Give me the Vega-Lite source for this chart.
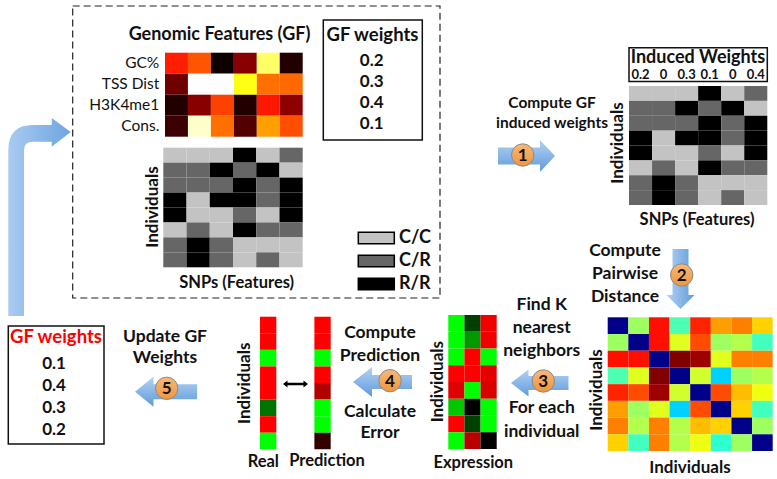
{
  "$schema": "https://vega.github.io/schema/vega-lite/v6.json",
  "width": 777,
  "height": 479,
  "padding": 0,
  "autosize": {"type": "none"},
  "background": "white",
  "config": {"view": {"stroke": null}, "text": {"font": "Lato"}},
  "datasets": {
    "snps": [
      {"i":1,"j":1,"g":"C/C"},{"i":1,"j":2,"g":"C/C"},{"i":1,"j":3,"g":"C/C"},{"i":1,"j":4,"g":"R/R"},{"i":1,"j":5,"g":"C/C"},{"i":1,"j":6,"g":"C/R"},
      {"i":2,"j":1,"g":"C/R"},{"i":2,"j":2,"g":"C/R"},{"i":2,"j":3,"g":"R/R"},{"i":2,"j":4,"g":"C/R"},{"i":2,"j":5,"g":"R/R"},{"i":2,"j":6,"g":"C/C"},
      {"i":3,"j":1,"g":"C/R"},{"i":3,"j":2,"g":"C/R"},{"i":3,"j":3,"g":"C/R"},{"i":3,"j":4,"g":"R/R"},{"i":3,"j":5,"g":"C/R"},{"i":3,"j":6,"g":"R/R"},
      {"i":4,"j":1,"g":"R/R"},{"i":4,"j":2,"g":"C/C"},{"i":4,"j":3,"g":"R/R"},{"i":4,"j":4,"g":"R/R"},{"i":4,"j":5,"g":"C/R"},{"i":4,"j":6,"g":"R/R"},
      {"i":5,"j":1,"g":"R/R"},{"i":5,"j":2,"g":"C/C"},{"i":5,"j":3,"g":"C/C"},{"i":5,"j":4,"g":"C/R"},{"i":5,"j":5,"g":"C/C"},{"i":5,"j":6,"g":"R/R"},
      {"i":6,"j":1,"g":"C/C"},{"i":6,"j":2,"g":"C/R"},{"i":6,"j":3,"g":"C/C"},{"i":6,"j":4,"g":"R/R"},{"i":6,"j":5,"g":"C/R"},{"i":6,"j":6,"g":"C/R"},
      {"i":7,"j":1,"g":"C/R"},{"i":7,"j":2,"g":"R/R"},{"i":7,"j":3,"g":"C/R"},{"i":7,"j":4,"g":"C/C"},{"i":7,"j":5,"g":"C/C"},{"i":7,"j":6,"g":"C/C"},
      {"i":8,"j":1,"g":"C/R"},{"i":8,"j":2,"g":"R/R"},{"i":8,"j":3,"g":"C/R"},{"i":8,"j":4,"g":"C/C"},{"i":8,"j":5,"g":"C/R"},{"i":8,"j":6,"g":"C/C"}
    ]
  },
  "layer": [
    {
      "data": {"values": [{}]},
      "layer": [
        {"mark": {"type": "rect", "fillOpacity": 0, "stroke": "#222", "strokeWidth": 1.2, "strokeDash": [7, 4]},
         "encoding": {"x": {"datum": 72.7, "type": "quantitative", "scale": {"domain": [0, 777], "nice": false, "zero": false}, "axis": null}, "x2": {"datum": 440}, "y": {"datum": 6, "type": "quantitative", "scale": {"domain": [0, 479], "nice": false, "zero": false, "reverse": true}, "axis": null}, "y2": {"datum": 298}}},
        {"mark": {"type": "rect", "fill": "white", "stroke": "#111", "strokeWidth": 1.5},
         "encoding": {"x": {"datum": 323.3, "type": "quantitative"}, "x2": {"datum": 422.3}, "y": {"datum": 20, "type": "quantitative"}, "y2": {"datum": 140}}},
        {"mark": {"type": "rect", "fill": "white", "stroke": "#111", "strokeWidth": 1.5},
         "encoding": {"x": {"datum": 629, "type": "quantitative"}, "x2": {"datum": 767.3}, "y": {"datum": 47.7, "type": "quantitative"}, "y2": {"datum": 81.5}}},
        {"mark": {"type": "rect", "fill": "white", "stroke": "#111", "strokeWidth": 1.5},
         "encoding": {"x": {"datum": 8.3, "type": "quantitative"}, "x2": {"datum": 104}, "y": {"datum": 326, "type": "quantitative"}, "y2": {"datum": 444}}},
        {"mark": {"type": "point", "shape": "M-31.7,96 L-31.7,-70 Q-31.7,-95 -7,-95 L11.7,-95 L11.7,-102 L30.7,-88 L11.7,-73.3 L11.7,-78.3 L-7,-78.3 Q-16,-78.3 -16,-70 L-16,96 Z", "size": 4, "filled": true, "opacity": 1, "strokeWidth": 0,
           "fill": {"gradient": "linear", "x1": 0, "y1": 0, "x2": 1, "y2": 0, "stops": [{"offset": 0, "color": "#a9cbf1"}, {"offset": 1, "color": "#6ea5e0"}]}},
         "encoding": {"x": {"datum": 40, "type": "quantitative"}, "y": {"datum": 220, "type": "quantitative"}}},
        {"mark": {"type": "point", "shape": "M-28,-8.5 L14,-8.5 L14,-16 L29,0 L14,16 L14,8.5 L-28,8.5 Z", "size": 4, "filled": true, "opacity": 1, "strokeWidth": 0,
           "fill": {"gradient": "linear", "x1": 0, "y1": 0, "x2": 0, "y2": 1, "stops": [{"offset": 0, "color": "#b3d2f3"}, {"offset": 1, "color": "#5f9bdb"}]}},
         "encoding": {"x": {"datum": 526, "type": "quantitative"}, "y": {"datum": 156, "type": "quantitative"}}},
        {"mark": {"type": "point", "shape": "M-8,-31 L8,-31 L8,15 L14,15 L0,29 L-14,15 L-8,15 Z", "size": 4, "filled": true, "opacity": 1, "strokeWidth": 0,
           "fill": {"gradient": "linear", "x1": 0, "y1": 0, "x2": 1, "y2": 0, "stops": [{"offset": 0, "color": "#b3d2f3"}, {"offset": 1, "color": "#5f9bdb"}]}},
         "encoding": {"x": {"datum": 680.5, "type": "quantitative"}, "y": {"datum": 280, "type": "quantitative"}}},
        {"mark": {"type": "point", "shape": "M-29,0 L-11.5,-13.5 L-11.5,-7 L28.5,-7 L28.5,7 L-11.5,7 L-11.5,13.5 Z", "size": 4, "filled": true, "opacity": 1, "strokeWidth": 0,
           "fill": {"gradient": "linear", "x1": 0, "y1": 0, "x2": 0, "y2": 1, "stops": [{"offset": 0, "color": "#b3d2f3"}, {"offset": 1, "color": "#5f9bdb"}]}},
         "encoding": {"x": {"datum": 540, "type": "quantitative"}, "y": {"datum": 383, "type": "quantitative"}}},
        {"mark": {"type": "point", "shape": "M-29,0 L-10,-15 L-10,-7 L30,-7 L30,7 L-10,7 L-10,15 Z", "size": 4, "filled": true, "opacity": 1, "strokeWidth": 0,
           "fill": {"gradient": "linear", "x1": 0, "y1": 0, "x2": 0, "y2": 1, "stops": [{"offset": 0, "color": "#b3d2f3"}, {"offset": 1, "color": "#5f9bdb"}]}},
         "encoding": {"x": {"datum": 382, "type": "quantitative"}, "y": {"datum": 382, "type": "quantitative"}}},
        {"mark": {"type": "point", "shape": "M-31,0 L-12.5,-15 L-12.5,-7.5 L31,-7.5 L31,7.5 L-12.5,7.5 L-12.5,15 Z", "size": 4, "filled": true, "opacity": 1, "strokeWidth": 0,
           "fill": {"gradient": "linear", "x1": 0, "y1": 0, "x2": 0, "y2": 1, "stops": [{"offset": 0, "color": "#b3d2f3"}, {"offset": 1, "color": "#5f9bdb"}]}},
         "encoding": {"x": {"datum": 166, "type": "quantitative"}, "y": {"datum": 391.7, "type": "quantitative"}}},
        {"mark": {"type": "point", "shape": "M-12.5,0 L-8,-3.5 L-8,-1.2 L8,-1.2 L8,-3.5 L12.5,0 L8,3.5 L8,1.2 L-8,1.2 L-8,3.5 Z", "size": 4, "filled": true, "opacity": 1, "strokeWidth": 0, "fill": "#000"},
         "encoding": {"x": {"datum": 295.5, "type": "quantitative"}, "y": {"datum": 384, "type": "quantitative"}}},
        {"data": {"values": [{"n": "1", "cx": 522.7, "cy": 155}, {"n": "2", "cx": 681.7, "cy": 275}, {"n": "3", "cx": 543.3, "cy": 381}, {"n": "4", "cx": 390, "cy": 380.7}, {"n": "5", "cx": 166.7, "cy": 388.3}]},
         "layer": [
           {"mark": {"type": "point", "shape": "circle", "size": 500, "filled": true, "opacity": 1, "stroke": "#8a8a8a", "strokeWidth": 1,
              "fill": {"gradient": "linear", "x1": 0, "y1": 0, "x2": 0, "y2": 1, "stops": [{"offset": 0, "color": "#f9b877"}, {"offset": 1, "color": "#ee9640"}]}},
            "encoding": {"x": {"field": "cx", "type": "quantitative"}, "y": {"field": "cy", "type": "quantitative"}}},
           {"mark": {"type": "text", "fontWeight": "bold", "fontSize": 17, "baseline": "middle", "dy": 1, "color": "#111"},
            "encoding": {"x": {"field": "cx", "type": "quantitative"}, "y": {"field": "cy", "type": "quantitative"}, "text": {"field": "n"}}}
         ]},
        {"mark": {"type": "text", "fontWeight": "bold", "fontSize": 18, "baseline": "middle", "text": "Genomic Features (GF)", "color": "#111"},
         "encoding": {"x": {"datum": 219.5, "type": "quantitative"}, "y": {"datum": 35, "type": "quantitative"}}},
        {"mark": {"type": "text", "fontWeight": "bold", "fontSize": 18.5, "baseline": "middle", "text": "GF weights", "color": "#111"},
         "encoding": {"x": {"datum": 372.5, "type": "quantitative"}, "y": {"datum": 35, "type": "quantitative"}}},
        {"mark": {"type": "text", "fontWeight": "bold", "fontSize": 16.5, "baseline": "middle", "text": "SNPs (Features)", "color": "#111"},
         "encoding": {"x": {"datum": 236.7, "type": "quantitative"}, "y": {"datum": 283.3, "type": "quantitative"}}},
        {"mark": {"type": "text", "fontWeight": "bold", "fontSize": 17, "baseline": "middle", "angle": 270, "text": "Individuals", "color": "#111"},
         "encoding": {"x": {"datum": 153, "type": "quantitative"}, "y": {"datum": 207, "type": "quantitative"}}},
        {"mark": {"type": "text", "fontWeight": "bold", "fontSize": 15.5, "baseline": "top", "lineHeight": 20, "text": ["Compute GF", "induced weights"], "color": "#111"},
         "encoding": {"x": {"datum": 552, "type": "quantitative"}, "y": {"datum": 96, "type": "quantitative"}}},
        {"mark": {"type": "text", "fontWeight": "bold", "fontSize": 18, "baseline": "middle", "text": "Induced Weights", "color": "#111"},
         "encoding": {"x": {"datum": 698, "type": "quantitative"}, "y": {"datum": 57.5, "type": "quantitative"}}},
        {"mark": {"type": "text", "fontWeight": "bold", "fontSize": 17, "baseline": "middle", "angle": 270, "text": "Individuals", "color": "#111"},
         "encoding": {"x": {"datum": 618, "type": "quantitative"}, "y": {"datum": 143, "type": "quantitative"}}},
        {"mark": {"type": "text", "fontWeight": "bold", "fontSize": 16.5, "baseline": "middle", "text": "SNPs (Features)", "color": "#111"},
         "encoding": {"x": {"datum": 697, "type": "quantitative"}, "y": {"datum": 220, "type": "quantitative"}}},
        {"mark": {"type": "text", "fontWeight": "bold", "fontSize": 17.5, "baseline": "top", "lineHeight": 23, "text": ["Compute", "Pairwise", "Distance"], "color": "#111"},
         "encoding": {"x": {"datum": 625, "type": "quantitative"}, "y": {"datum": 241.5, "type": "quantitative"}}},
        {"mark": {"type": "text", "fontWeight": "bold", "fontSize": 17, "baseline": "middle", "angle": 270, "text": "Individuals", "color": "#111"},
         "encoding": {"x": {"datum": 596.7, "type": "quantitative"}, "y": {"datum": 390, "type": "quantitative"}}},
        {"mark": {"type": "text", "fontWeight": "bold", "fontSize": 17, "baseline": "middle", "text": "Individuals", "color": "#111"},
         "encoding": {"x": {"datum": 690, "type": "quantitative"}, "y": {"datum": 468.3, "type": "quantitative"}}},
        {"mark": {"type": "text", "fontWeight": "bold", "fontSize": 17.5, "baseline": "top", "lineHeight": 23.3, "text": ["Find K", "nearest", "neighbors"], "color": "#111"},
         "encoding": {"x": {"datum": 541.7, "type": "quantitative"}, "y": {"datum": 295.5, "type": "quantitative"}}},
        {"mark": {"type": "text", "fontWeight": "bold", "fontSize": 17.5, "baseline": "top", "lineHeight": 24, "text": ["For each", "individual"], "color": "#111"},
         "encoding": {"x": {"datum": 541.7, "type": "quantitative"}, "y": {"datum": 398.5, "type": "quantitative"}}},
        {"mark": {"type": "text", "fontWeight": "bold", "fontSize": 17, "baseline": "middle", "angle": 270, "text": "Individuals", "color": "#111"},
         "encoding": {"x": {"datum": 438.3, "type": "quantitative"}, "y": {"datum": 381.7, "type": "quantitative"}}},
        {"mark": {"type": "text", "fontWeight": "bold", "fontSize": 16.5, "baseline": "middle", "text": "Expression", "color": "#111"},
         "encoding": {"x": {"datum": 473.3, "type": "quantitative"}, "y": {"datum": 463.3, "type": "quantitative"}}},
        {"mark": {"type": "text", "fontWeight": "bold", "fontSize": 17.5, "baseline": "top", "lineHeight": 23.3, "text": ["Compute", "Prediction"], "color": "#111"},
         "encoding": {"x": {"datum": 380, "type": "quantitative"}, "y": {"datum": 324, "type": "quantitative"}}},
        {"mark": {"type": "text", "fontWeight": "bold", "fontSize": 17.5, "baseline": "top", "lineHeight": 21.7, "text": ["Calculate", "Error"], "color": "#111"},
         "encoding": {"x": {"datum": 380, "type": "quantitative"}, "y": {"datum": 402.5, "type": "quantitative"}}},
        {"mark": {"type": "text", "fontWeight": "bold", "fontSize": 17, "baseline": "middle", "angle": 270, "text": "Individuals", "color": "#111"},
         "encoding": {"x": {"datum": 245, "type": "quantitative"}, "y": {"datum": 383.3, "type": "quantitative"}}},
        {"mark": {"type": "text", "fontWeight": "bold", "fontSize": 16.5, "baseline": "middle", "text": "Real", "color": "#111"},
         "encoding": {"x": {"datum": 263.3, "type": "quantitative"}, "y": {"datum": 461.7, "type": "quantitative"}}},
        {"mark": {"type": "text", "fontWeight": "bold", "fontSize": 16.5, "baseline": "middle", "text": "Prediction", "color": "#111"},
         "encoding": {"x": {"datum": 327, "type": "quantitative"}, "y": {"datum": 460.5, "type": "quantitative"}}},
        {"mark": {"type": "text", "fontWeight": "bold", "fontSize": 17.5, "baseline": "top", "lineHeight": 21.7, "text": ["Update GF", "Weights"], "color": "#111"},
         "encoding": {"x": {"datum": 165, "type": "quantitative"}, "y": {"datum": 327.5, "type": "quantitative"}}},
        {"mark": {"type": "text", "fontWeight": "bold", "fontSize": 18.5, "baseline": "middle", "color": "#ff0000", "text": "GF weights"},
         "encoding": {"x": {"datum": 56, "type": "quantitative"}, "y": {"datum": 336.7, "type": "quantitative"}}}
      ]
    },
    {
      "data": {"values": [
        {"f":"GC%","j":1,"v":0.42},{"f":"GC%","j":2,"v":0.5},{"f":"GC%","j":3,"v":0.02},{"f":"GC%","j":4,"v":0.2},{"f":"GC%","j":5,"v":0.85},{"f":"GC%","j":6,"v":0.05},
        {"f":"TSS Dist","j":1,"v":0.165},{"f":"TSS Dist","j":2,"v":1.0},{"f":"TSS Dist","j":3,"v":1.0},{"f":"TSS Dist","j":4,"v":0.77},{"f":"TSS Dist","j":5,"v":0.54},{"f":"TSS Dist","j":6,"v":0.53},
        {"f":"H3K4me1","j":1,"v":0.05},{"f":"H3K4me1","j":2,"v":0.2},{"f":"H3K4me1","j":3,"v":0.47},{"f":"H3K4me1","j":4,"v":0.05},{"f":"H3K4me1","j":5,"v":0.41},{"f":"H3K4me1","j":6,"v":0.21},
        {"f":"Cons.","j":1,"v":0.09},{"f":"Cons.","j":2,"v":0.95},{"f":"Cons.","j":3,"v":0.54},{"f":"Cons.","j":4,"v":0.12},{"f":"Cons.","j":5,"v":0.61},{"f":"Cons.","j":6,"v":0.49}
      ]},
      "mark": {"type": "rect"},
      "encoding": {
        "x": {"field": "j", "type": "ordinal", "axis": null, "scale": {"range": [165, 302.7], "paddingInner": 0, "paddingOuter": 0}},
        "y": {"field": "f", "type": "ordinal", "axis": null, "sort": ["GC%", "TSS Dist", "H3K4me1", "Cons."], "scale": {"range": [52.7, 136.7], "paddingInner": 0, "paddingOuter": 0}},
        "color": {"field": "v", "type": "quantitative", "legend": null, "scale": {"type": "linear", "domain": [0, 0.375, 0.75, 1], "range": ["#000000", "#ff0000", "#ffff00", "#ffffff"], "interpolate": "rgb"}}
      }
    },
    {
      "data": {"values": [{"f":"GC%","w":0.2},{"f":"TSS Dist","w":0.3},{"f":"H3K4me1","w":0.4},{"f":"Cons.","w":0.1}]},
      "layer": [
        {"mark": {"type": "text", "fontSize": 15.5, "align": "right", "baseline": "middle", "color": "#111"},
         "encoding": {"x": {"datum": 159.3, "type": "quantitative", "scale": {"domain": [0, 777], "nice": false, "zero": false}, "axis": null},
           "y": {"field": "f", "type": "ordinal", "axis": null, "sort": ["GC%", "TSS Dist", "H3K4me1", "Cons."], "scale": {"range": [52.7, 136.7], "paddingInner": 0, "paddingOuter": 0}},
           "text": {"field": "f"}}},
        {"mark": {"type": "text", "fontSize": 17, "fontWeight": "bold", "baseline": "middle", "dy": -2, "color": "#111"},
         "encoding": {"x": {"datum": 371.7, "type": "quantitative"},
           "y": {"field": "f", "type": "ordinal", "sort": ["GC%", "TSS Dist", "H3K4me1", "Cons."]},
           "text": {"field": "w", "type": "quantitative", "format": ".1f"}}}
      ]
    },
    {
      "data": {"name": "snps"},
      "mark": {"type": "rect"},
      "encoding": {
        "x": {"field": "j", "type": "ordinal", "axis": null, "scale": {"range": [163.3, 302.7], "paddingInner": 0, "paddingOuter": 0}},
        "y": {"field": "i", "type": "ordinal", "axis": null, "scale": {"range": [147.7, 267.3], "paddingInner": 0, "paddingOuter": 0}},
        "color": {"field": "g", "type": "nominal", "legend": null, "scale": {"domain": ["C/C", "C/R", "R/R"], "range": ["#c3c3c3", "#666666", "#000000"]}}
      }
    },
    {
      "data": {"name": "snps"},
      "mark": {"type": "rect"},
      "encoding": {
        "x": {"field": "j", "type": "ordinal", "axis": null, "scale": {"range": [629, 767.3], "paddingInner": 0, "paddingOuter": 0}},
        "y": {"field": "i", "type": "ordinal", "axis": null, "scale": {"range": [86, 205], "paddingInner": 0, "paddingOuter": 0}},
        "color": {"field": "g", "type": "nominal", "legend": null, "scale": {"domain": ["C/C", "C/R", "R/R"], "range": ["#c3c3c3", "#666666", "#000000"]}}
      }
    },
    {
      "data": {"values": [{"j":1,"w":0.2},{"j":2,"w":0},{"j":3,"w":0.3},{"j":4,"w":0.1},{"j":5,"w":0},{"j":6,"w":0.4}]},
      "mark": {"type": "text", "fontSize": 13, "fontWeight": "bold", "baseline": "middle", "color": "#111"},
      "encoding": {
        "x": {"field": "j", "type": "ordinal", "axis": null, "scale": {"range": [629, 767.3], "paddingInner": 0, "paddingOuter": 0}},
        "y": {"datum": 74.5, "type": "quantitative", "axis": null, "scale": {"domain": [0, 479], "nice": false, "zero": false, "reverse": true}},
        "text": {"field": "w", "type": "quantitative", "format": "~g"}
      }
    },
    {
      "data": {"values": [{"g": "C/C"}, {"g": "C/R"}, {"g": "R/R"}]},
      "layer": [
        {"mark": {"type": "rect", "stroke": "#000", "strokeWidth": 1.5},
         "encoding": {
           "x": {"datum": 358.3, "type": "quantitative", "axis": null, "scale": {"domain": [0, 777], "nice": false, "zero": false}},
           "x2": {"datum": 394.3},
           "y": {"field": "g", "type": "ordinal", "axis": null, "scale": {"range": [232.25, 289.75], "paddingInner": 0.5, "paddingOuter": 0}},
           "color": {"field": "g", "type": "nominal", "legend": null, "scale": {"domain": ["C/C", "C/R", "R/R"], "range": ["#c3c3c3", "#666666", "#000000"]}}
         }},
        {"mark": {"type": "text", "fontSize": 18, "fontWeight": "bold", "align": "left", "baseline": "middle", "color": "#111"},
         "encoding": {
           "x": {"datum": 399, "type": "quantitative"},
           "y": {"field": "g", "type": "ordinal"},
           "text": {"field": "g"}
         }}
      ]
    },
    {
      "data": {"values": [
        {"i":1,"j":1,"d":0.0},{"i":1,"j":2,"d":0.53},{"i":1,"j":3,"d":0.86},{"i":1,"j":4,"d":0.45},{"i":1,"j":5,"d":0.84},{"i":1,"j":6,"d":0.72},{"i":1,"j":7,"d":0.75},{"i":1,"j":8,"d":0.67},
        {"i":2,"j":1,"d":0.53},{"i":2,"j":2,"d":0.0},{"i":2,"j":3,"d":0.86},{"i":2,"j":4,"d":0.595},{"i":2,"j":5,"d":0.8},{"i":2,"j":6,"d":0.53},{"i":2,"j":7,"d":0.55},{"i":2,"j":8,"d":0.44},
        {"i":3,"j":1,"d":0.86},{"i":3,"j":2,"d":0.86},{"i":3,"j":3,"d":0.0},{"i":3,"j":4,"d":1.0},{"i":3,"j":5,"d":0.97},{"i":3,"j":6,"d":0.595},{"i":3,"j":7,"d":0.75},{"i":3,"j":8,"d":0.75},
        {"i":4,"j":1,"d":0.45},{"i":4,"j":2,"d":0.595},{"i":4,"j":3,"d":1.0},{"i":4,"j":4,"d":0.0},{"i":4,"j":5,"d":0.58},{"i":4,"j":6,"d":0.33},{"i":4,"j":7,"d":0.53},{"i":4,"j":8,"d":0.55},
        {"i":5,"j":1,"d":0.84},{"i":5,"j":2,"d":0.8},{"i":5,"j":3,"d":0.97},{"i":5,"j":4,"d":0.58},{"i":5,"j":5,"d":0.0},{"i":5,"j":6,"d":0.8},{"i":5,"j":7,"d":0.69},{"i":5,"j":8,"d":0.61},
        {"i":6,"j":1,"d":0.72},{"i":6,"j":2,"d":0.53},{"i":6,"j":3,"d":0.595},{"i":6,"j":4,"d":0.33},{"i":6,"j":5,"d":0.8},{"i":6,"j":6,"d":0.0},{"i":6,"j":7,"d":0.67},{"i":6,"j":8,"d":0.44},
        {"i":7,"j":1,"d":0.75},{"i":7,"j":2,"d":0.55},{"i":7,"j":3,"d":0.75},{"i":7,"j":4,"d":0.55},{"i":7,"j":5,"d":0.69},{"i":7,"j":6,"d":0.67},{"i":7,"j":7,"d":0.0},{"i":7,"j":8,"d":0.53},
        {"i":8,"j":1,"d":0.67},{"i":8,"j":2,"d":0.44},{"i":8,"j":3,"d":0.75},{"i":8,"j":4,"d":0.55},{"i":8,"j":5,"d":0.61},{"i":8,"j":6,"d":0.42},{"i":8,"j":7,"d":0.53},{"i":8,"j":8,"d":0.0}
      ]},
      "mark": {"type": "rect"},
      "encoding": {
        "x": {"field": "j", "type": "ordinal", "axis": null, "scale": {"range": [607.7, 772.7], "paddingInner": 0, "paddingOuter": 0}},
        "y": {"field": "i", "type": "ordinal", "axis": null, "scale": {"range": [317.3, 451], "paddingInner": 0, "paddingOuter": 0}},
        "color": {"field": "d", "type": "quantitative", "legend": null, "scale": {"type": "linear", "domain": [0, 0.125, 0.375, 0.625, 0.875, 1], "range": ["#000088", "#0000ff", "#00ffff", "#ffff00", "#ff0000", "#800000"], "interpolate": "rgb"}}
      }
    },
    {
      "data": {"values": [
        {"i":1,"k":1,"v":-1},{"i":1,"k":2,"v":-0.25},{"i":1,"k":3,"v":0.95},
        {"i":2,"k":1,"v":-1},{"i":2,"k":2,"v":-0.6},{"i":2,"k":3,"v":0.95},
        {"i":3,"k":1,"v":-1},{"i":3,"k":2,"v":1},{"i":3,"k":3,"v":-1},
        {"i":4,"k":1,"v":1},{"i":4,"k":2,"v":1},{"i":4,"k":3,"v":0.9},
        {"i":5,"k":1,"v":0.88},{"i":5,"k":2,"v":-1},{"i":5,"k":3,"v":0.85},
        {"i":6,"k":1,"v":-0.78},{"i":6,"k":2,"v":0},{"i":6,"k":3,"v":-1},
        {"i":7,"k":1,"v":1},{"i":7,"k":2,"v":-0.25},{"i":7,"k":3,"v":-1},
        {"i":8,"k":1,"v":-1},{"i":8,"k":2,"v":0.72},{"i":8,"k":3,"v":0}
      ]},
      "mark": {"type": "rect"},
      "encoding": {
        "x": {"field": "k", "type": "ordinal", "axis": null, "scale": {"range": [448.3, 496.7], "paddingInner": 0, "paddingOuter": 0}},
        "y": {"field": "i", "type": "ordinal", "axis": null, "scale": {"range": [315, 449], "paddingInner": 0, "paddingOuter": 0}},
        "color": {"field": "v", "type": "quantitative", "legend": null, "scale": {"type": "linear", "domain": [-1, 0, 1], "range": ["#00ff00", "#000000", "#ff0000"], "interpolate": "rgb"}}
      }
    },
    {
      "data": {"values": [
        {"s":"Real","i":1,"v":1},{"s":"Real","i":2,"v":1},{"s":"Real","i":3,"v":-1},{"s":"Real","i":4,"v":1},{"s":"Real","i":5,"v":1},{"s":"Real","i":6,"v":-0.45},{"s":"Real","i":7,"v":1},{"s":"Real","i":8,"v":-1},
        {"s":"Prediction","i":1,"v":1},{"s":"Prediction","i":2,"v":1},{"s":"Prediction","i":3,"v":-1},{"s":"Prediction","i":4,"v":1},{"s":"Prediction","i":5,"v":0.7},{"s":"Prediction","i":6,"v":-1},{"s":"Prediction","i":7,"v":-1},{"s":"Prediction","i":8,"v":0.2}
      ]},
      "mark": {"type": "rect"},
      "encoding": {
        "x": {"field": "s", "type": "ordinal", "axis": null, "sort": ["Real", "Prediction"], "scale": {"range": [260, 330.7], "paddingInner": 0.7, "paddingOuter": 0}},
        "y": {"field": "i", "type": "ordinal", "axis": null, "scale": {"range": [316.7, 449.3], "paddingInner": 0, "paddingOuter": 0}},
        "color": {"field": "v", "type": "quantitative", "legend": null, "scale": {"type": "linear", "domain": [-1, 0, 1], "range": ["#00ff00", "#000000", "#ff0000"], "interpolate": "rgb"}}
      }
    },
    {
      "data": {"values": [{"f":"GC%","w":0.1},{"f":"TSS Dist","w":0.4},{"f":"H3K4me1","w":0.3},{"f":"Cons.","w":0.2}]},
      "mark": {"type": "text", "fontSize": 17, "fontWeight": "bold", "baseline": "middle", "color": "#111"},
      "encoding": {
        "x": {"datum": 54, "type": "quantitative", "axis": null, "scale": {"domain": [0, 777], "nice": false, "zero": false}},
        "y": {"field": "f", "type": "ordinal", "axis": null, "sort": ["GC%", "TSS Dist", "H3K4me1", "Cons."], "scale": {"range": [353, 441], "paddingInner": 0, "paddingOuter": 0}},
        "text": {"field": "w", "type": "quantitative", "format": ".1f"}
      }
    }
  ],
  "resolve": {"scale": {"x": "independent", "y": "independent", "color": "independent"}}
}
